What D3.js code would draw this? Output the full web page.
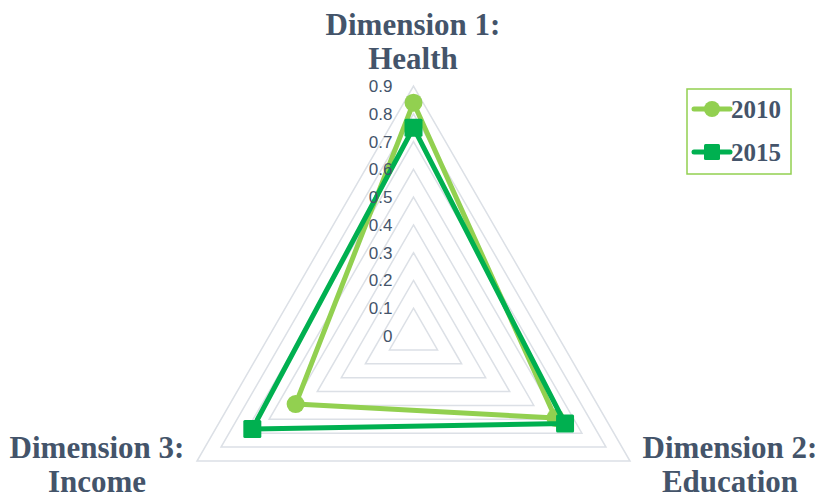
<!DOCTYPE html>
<html>
<head>
<meta charset="utf-8">
<script src="https://cdn.jsdelivr.net/npm/d3@7"></script>
<style>
  html, body { margin: 0; padding: 0; background: #fff; }
  #chart { width: 821px; height: 502px; }
</style>
</head>
<body>
<div id="chart"></div>
<script>
// Chart data
const axisNames = [["Dimension 1:", "Health"], ["Dimension 2:", "Education"], ["Dimension 3:", "Income"]];
const seriesNames = ["2010", "2015"];
const values2010 = [0.84, 0.59, 0.49];
const values2015 = [0.75, 0.63, 0.67];
const tickValues = [0, 0.1, 0.2, 0.3, 0.4, 0.5, 0.6, 0.7, 0.8, 0.9];

const width = 821, height = 502;
const cx = 413.5, cy = 336;
const textColor = '#44546A';
const colors = { '2010': '#92D050', '2015': '#00B050' };

const svg = d3.select('#chart').append('svg')
    .attr('width', width)
    .attr('height', height);

const rScale = d3.scaleLinear().domain([0, 0.9]).range([0, 250]);
const angle = i => -Math.PI / 2 + i * 2 * Math.PI / axisNames.length;
const point = (v, i) => [cx + rScale(v) * Math.cos(angle(i)), cy + rScale(v) * Math.sin(angle(i))];

const g = svg.append('g');

// grid triangles
g.selectAll('.grid')
    .data(tickValues.filter(t => t > 0))
    .enter()
    .append('path')
    .attr('class', 'grid')
    .attr('d', t => d3.line()(axisNames.map((_, i) => point(t, i))) + 'Z')
    .attr('fill', 'none')
    .attr('stroke', '#DCE0E6')
    .attr('stroke-width', 1.5);

// series
const series = [
    { name: seriesNames[0], values: values2010, shape: 'circle' },
    { name: seriesNames[1], values: values2015, shape: 'square' }
];

series.forEach(s => {
    const pts = s.values.map((v, i) => point(v, i));
    g.append('path')
        .attr('d', d3.line()(pts) + 'Z')
        .attr('fill', 'none')
        .attr('stroke', colors[s.name])
        .attr('stroke-width', 5)
        .attr('stroke-linejoin', 'round');

    if (s.shape === 'circle') {
        g.selectAll('.m' + s.name)
            .data(pts)
            .enter()
            .append('circle')
            .attr('cx', d => d[0])
            .attr('cy', d => d[1])
            .attr('r', 9)
            .attr('fill', colors[s.name]);
    } else {
        g.selectAll('.m' + s.name)
            .data(pts)
            .enter()
            .append('rect')
            .attr('x', d => d[0] - 9)
            .attr('y', d => d[1] - 9)
            .attr('width', 18)
            .attr('height', 18)
            .attr('rx', 1.5)
            .attr('fill', colors[s.name]);
    }
});

// tick labels
g.selectAll('.tick-label')
    .data(tickValues)
    .enter()
    .append('text')
    .attr('class', 'tick-label')
    .attr('x', cx - 21)
    .attr('y', t => cy - rScale(t))
    .attr('dy', '0.35em')
    .attr('text-anchor', 'end')
    .style('font-family', "'Liberation Sans', Arial, sans-serif")
    .style('font-size', '17px')
    .style('fill', textColor)
    .text(t => d3.format('~g')(t));

// axis titles
const titlePos = [
    { x: 413, y: 35 },
    { x: 730, y: 458 },
    { x: 97, y: 458 }
];

axisNames.forEach((lines, i) => {
    const t = svg.append('text')
        .attr('x', titlePos[i].x)
        .attr('y', titlePos[i].y)
        .attr('text-anchor', 'middle')
        .style('font-family', "'Liberation Serif', 'Times New Roman', serif")
        .style('font-weight', 'bold')
        .style('font-size', '31px')
        .style('fill', textColor);
    lines.forEach((line, j) => {
        t.append('tspan')
            .attr('x', titlePos[i].x)
            .attr('dy', j === 0 ? 0 : 34)
            .text(line);
    });
});

// legend
const legend = svg.append('g').attr('transform', 'translate(687,89)');
legend.append('rect')
    .attr('width', 104)
    .attr('height', 85)
    .attr('fill', '#fff')
    .attr('stroke', '#92D050')
    .attr('stroke-width', 1.5);

series.forEach((s, i) => {
    const row = legend.append('g').attr('transform', `translate(0,${20 + i * 43})`);
    row.append('line')
        .attr('x1', 7).attr('x2', 43)
        .attr('y1', 0).attr('y2', 0)
        .attr('stroke', colors[s.name])
        .attr('stroke-width', 5)
        .attr('stroke-linecap', 'round');
    if (s.shape === 'circle') {
        row.append('circle').attr('cx', 25).attr('cy', 0).attr('r', 8).attr('fill', colors[s.name]);
    } else {
        row.append('rect').attr('x', 17).attr('y', -8).attr('width', 16).attr('height', 16)
            .attr('rx', 1.5).attr('fill', colors[s.name]);
    }
    row.append('text')
        .attr('x', 44)
        .attr('y', 9)
        .style('font-family', "'Liberation Serif', 'Times New Roman', serif")
        .style('font-weight', 'bold')
        .style('font-size', '25px')
        .style('fill', textColor)
        .text(s.name);
});
</script>
</body>
</html>
